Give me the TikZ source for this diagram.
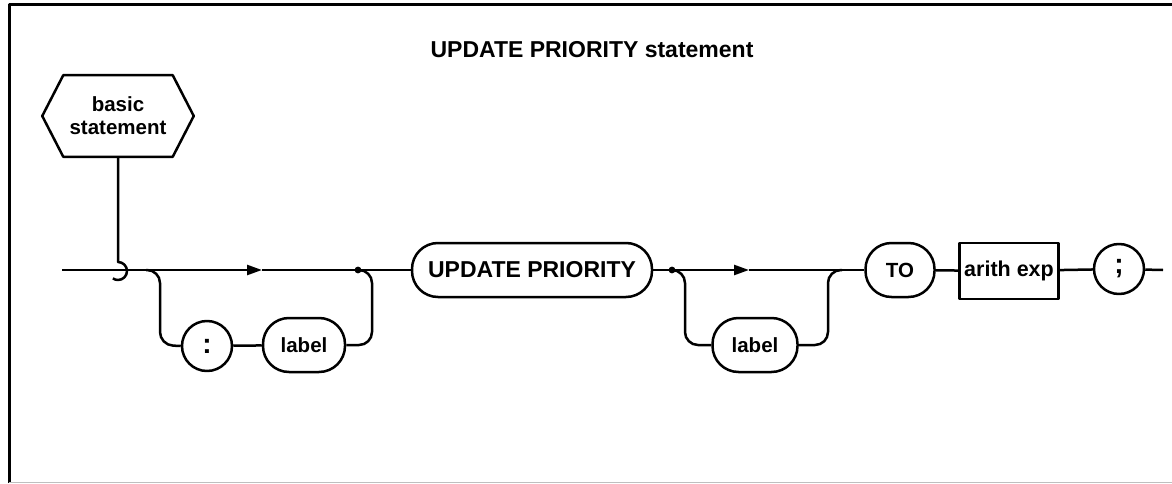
\documentclass[tikz,border=0pt]{standalone}
\usepackage{fontspec}
\setmainfont{Liberation Sans}
\usetikzlibrary{arrows.meta}
\begin{document}
\begin{tikzpicture}[x=1pt,y=1pt,
  line width=2.5pt, line join=round,
  every node/.style={font=\fontsize{20.5}{23}\selectfont\bfseries, inner sep=0pt},
  term/.style={draw, rectangle, rounded corners=26pt, minimum height=54pt},
  circ/.style={draw, circle, minimum size=50pt, font=\fontsize{28}{28}\selectfont\bfseries},
  boxed/.style={draw, rectangle, minimum height=56pt},
  tip/.style={-{Triangle[length=15pt,width=10pt]}},
  loop/.style={rounded corners=13pt}]
\useasboundingbox (0,0) rectangle (1172,483);
% frame
\draw[line width=3pt] (9,0) -- (9,478) -- (1172,478);
\draw[line width=0.8pt, black!25] (9,1) -- (1172,1);
% title
\node (title) at (592,433) {\fontsize{23}{25}\selectfont UPDATE PRIORITY statement};
% hexagon
\node[minimum width=149pt, minimum height=79pt, align=center] (hex) at (118,367) {basic\\statement};
\draw ([xshift=0pt]hex.west) -- ([xshift=21pt]hex.north west) -- ([xshift=-21pt]hex.north east)
  -- (hex.east) -- ([xshift=-21pt]hex.south east) -- ([xshift=21pt]hex.south west) -- cycle;
% nodes
\node[circ] (colon) at (207,137) {:};
\node[term, minimum width=82pt] (lab1) at (304,138) {label};
\node[term, minimum width=240pt, font=\fontsize{23}{25}\selectfont\bfseries] (up) at (532,213) {UPDATE PRIORITY};
\node[term, minimum width=85pt] (lab2) at (755,138) {label};
\node[term, minimum width=69pt] (to) at (900,213) {TO};
\node[boxed, minimum width=99pt, font=\fontsize{21.5}{23}\selectfont\bfseries] (arith) at (1009,212) {arith exp};
\node[circ] (semi) at (1119,214) {;};
% coordinates
\coordinate (start) at (62,213);
\coordinate (hk) at (118,221);
\coordinate (a1) at (262,213);
\coordinate (d1) at (358,213);
\coordinate (a2) at (749,213);
\coordinate (d2) at (672,213);
\coordinate (fin) at (1163,213);
% main line
\draw[tip] (start) -- (a1);
\draw (a1) -- (up.west);
\draw[tip] (up.east) -- (a2);
\draw (a2) -- (to.west);
\draw (to) -- (arith) -- (semi) -- (fin);
% hook
\draw (hex.south) -- (hk) arc[start angle=90, end angle=-125, radius=9pt];
% loop 1
\draw[loop] (146,213) -- (160,213) -- (160,138) -- (colon.west);
\draw (colon) -- (lab1);
\draw[loop] (lab1.east) -- (372,138) -- (372,213) -- (d1);
\fill (d1) circle (3.4pt);
% loop 2
\draw[loop] (d2) -- (685,213) -- (685,138) -- (lab2.west);
\draw[loop] (lab2.east) -- (828,138) -- (828,213) -- (842,213);
\fill (d2) circle (3.4pt);
\end{tikzpicture}
\end{document}
